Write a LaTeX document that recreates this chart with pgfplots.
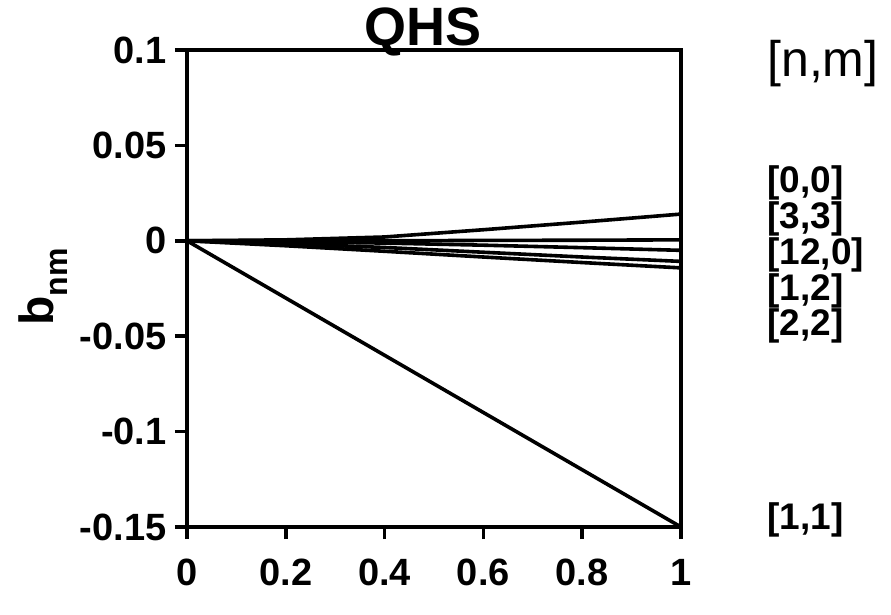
\documentclass[border=0pt]{standalone}
\usepackage{pgfplots}
\pgfplotsset{compat=1.18}
\usepackage{fontspec}
\setmainfont{Liberation Sans}
\begin{document}
\begin{tikzpicture}
\begin{axis}[
  scale only axis, width=247pt, height=238.5pt,
  xmin=0, xmax=1, ymin=-0.15, ymax=0.1,
  axis line style={line width=1.8pt},
  major tick style={black, line width=1.8pt},
  tick align=outside, major tick length=6pt,
  xtick pos=bottom, ytick pos=left,
  xtick={0,0.2,0.4,0.6,0.8,1}, xticklabels={0,0.2,0.4,0.6,0.8,1},
  ytick={-0.15,-0.1,-0.05,0,0.05,0.1}, yticklabels={-0.15,-0.1,-0.05,0,0.05,0.1},
  tick label style={font=\fontsize{19}{22}\selectfont\bfseries},
  yticklabel style={inner sep=0pt, anchor=east, xshift=-4pt},
  xticklabel style={inner sep=0pt, anchor=north, yshift=-10pt},
  clip=false,
  cycle list={{black, no markers, solid}},
  every axis plot post/.append style={line width=1.8pt},
]
% [0,0]
\addplot coordinates {(0,0) (0.2,0.0005) (0.4,0.002) (0.6,0.0058) (0.8,0.0098) (1,0.014)};
% [3,3]
\addplot coordinates {(0,0) (0.2,0) (0.4,0) (0.6,0.0002) (0.8,0.0003) (1,0.0005)};
% [12,0]
\addplot coordinates {(0,0) (0.2,-0.0005) (0.4,-0.0012) (0.6,-0.0023) (0.8,-0.0036) (1,-0.005)};
% [1,2]
\addplot coordinates {(0,0) (0.2,-0.0015) (0.4,-0.0035) (0.6,-0.006) (0.8,-0.0085) (1,-0.0108)};
% [2,2]
\addplot coordinates {(0,0) (0.2,-0.0026) (0.4,-0.0055) (0.6,-0.0085) (0.8,-0.0114) (1,-0.0142)};
% [1,1]
\addplot coordinates {(0,0) (0.2,-0.03) (0.4,-0.06) (0.6,-0.09) (0.8,-0.12) (1,-0.15)};

\path[use as bounding box] (rel axis cs:-0.3785,-0.1824) rectangle (rel axis cs:1.4251,1.1048);
\node[anchor=base] at (rel axis cs:0.4777,1.0084) {\fontsize{27}{30}\selectfont\bfseries QHS};
\node[rotate=90, inner sep=0pt] at (rel axis cs:-0.2915,0.503) {\fontsize{24}{28}\selectfont\bfseries b\raisebox{-0.3em}{\fontsize{16}{18}\selectfont nm}};
\node[anchor=west, inner sep=0pt] at (rel axis cs:1.174,0.9706) {\fontsize{25}{28}\selectfont [n,m]};
\node[anchor=west, inner sep=0pt] at (rel axis cs:1.174,0.7212) {\fontsize{18.5}{20}\selectfont\bfseries [0,0]};
\node[anchor=west, inner sep=0pt] at (rel axis cs:1.174,0.6457) {\fontsize{18.5}{20}\selectfont\bfseries [3,3]};
\node[anchor=west, inner sep=0pt] at (rel axis cs:1.174,0.5702) {\fontsize{18.5}{20}\selectfont\bfseries [12,0]};
\node[anchor=west, inner sep=0pt] at (rel axis cs:1.174,0.4948) {\fontsize{18.5}{20}\selectfont\bfseries [1,2]};
\node[anchor=west, inner sep=0pt] at (rel axis cs:1.174,0.4214) {\fontsize{18.5}{20}\selectfont\bfseries [2,2]};
\node[anchor=west, inner sep=0pt] at (rel axis cs:1.174,0.0147) {\fontsize{18.5}{20}\selectfont\bfseries [1,1]};
\end{axis}
\end{tikzpicture}
\end{document}
